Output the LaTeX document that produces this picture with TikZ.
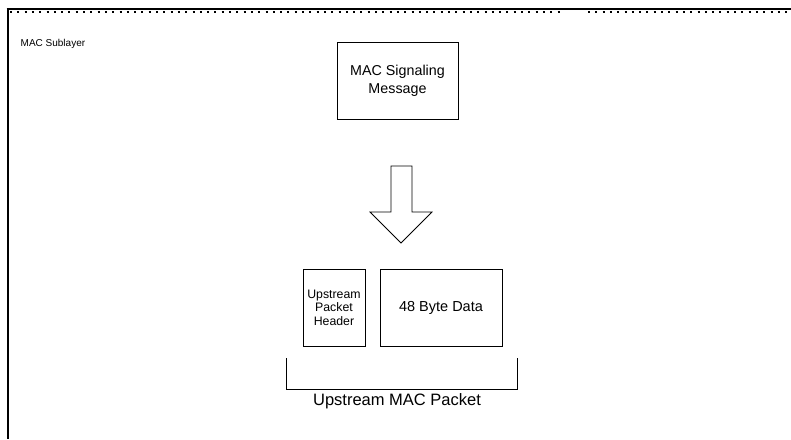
\documentclass[tikz,border=0pt]{standalone}
\usepackage{fontspec}
\setmainfont{Liberation Sans}
\usetikzlibrary{arrows,shapes,positioning}

\begin{document}
\begin{tikzpicture}[x=1pt,y=1pt]
                \tikzstyle{every node}+=[inner sep=0pt]
                \tikzstyle{blk}=[draw=black, line width=0.8pt, align=center]
                \useasboundingbox (0,0) rectangle (791,-439);
                % frame of the sublayer
                \draw [black, line width=2pt] (6.5,-9) -- (791,-9);
                \draw [black, line width=1.8pt, dash pattern=on 2pt off 5.3pt] (10,-12) -- (562,-12);
                \draw [black, line width=1.8pt, dash pattern=on 2pt off 5.3pt] (588,-12) -- (791,-12);
                \draw [black, line width=2pt] (7.5,-8) -- (7.5,-439);
                \node (sub) [right, font=\fontsize{10}{12}\selectfont] at (20.5,-43.5) {MAC Sublayer};
                \node (sig) [blk, minimum width=121pt, minimum height=77pt, font=\fontsize{14.3}{18}\selectfont] at (397.5,-80.5) {MAC Signaling\\Message};
                % block arrow
                \draw [black, line width=0.8pt] (391,-166) -- (412,-166) -- (412,-212) -- (432,-212)
                      -- (401,-243) -- (370,-212) -- (391,-212) -- cycle;
                \node (hdr) [blk, minimum width=62pt, minimum height=77pt, font=\fontsize{12.3}{13.5}\selectfont] at (334,-307.5) {Upstream\\Packet\\Header};
                \node (data) [blk, minimum width=122pt, minimum height=77pt, font=\fontsize{14.5}{17}\selectfont] at (441,-307.5) {48 Byte Data};
                % bracket
                \coordinate (bl) at (286,-358);
                \coordinate (br) at (517,-358);
                \draw [black, line width=0.9pt] (bl) -- ++(0,-31) -| (br);
                \node (pkt) [font=\fontsize{16.5}{19}\selectfont] at (397,-401) {Upstream MAC Packet};
            \end{tikzpicture}
\end{document}
